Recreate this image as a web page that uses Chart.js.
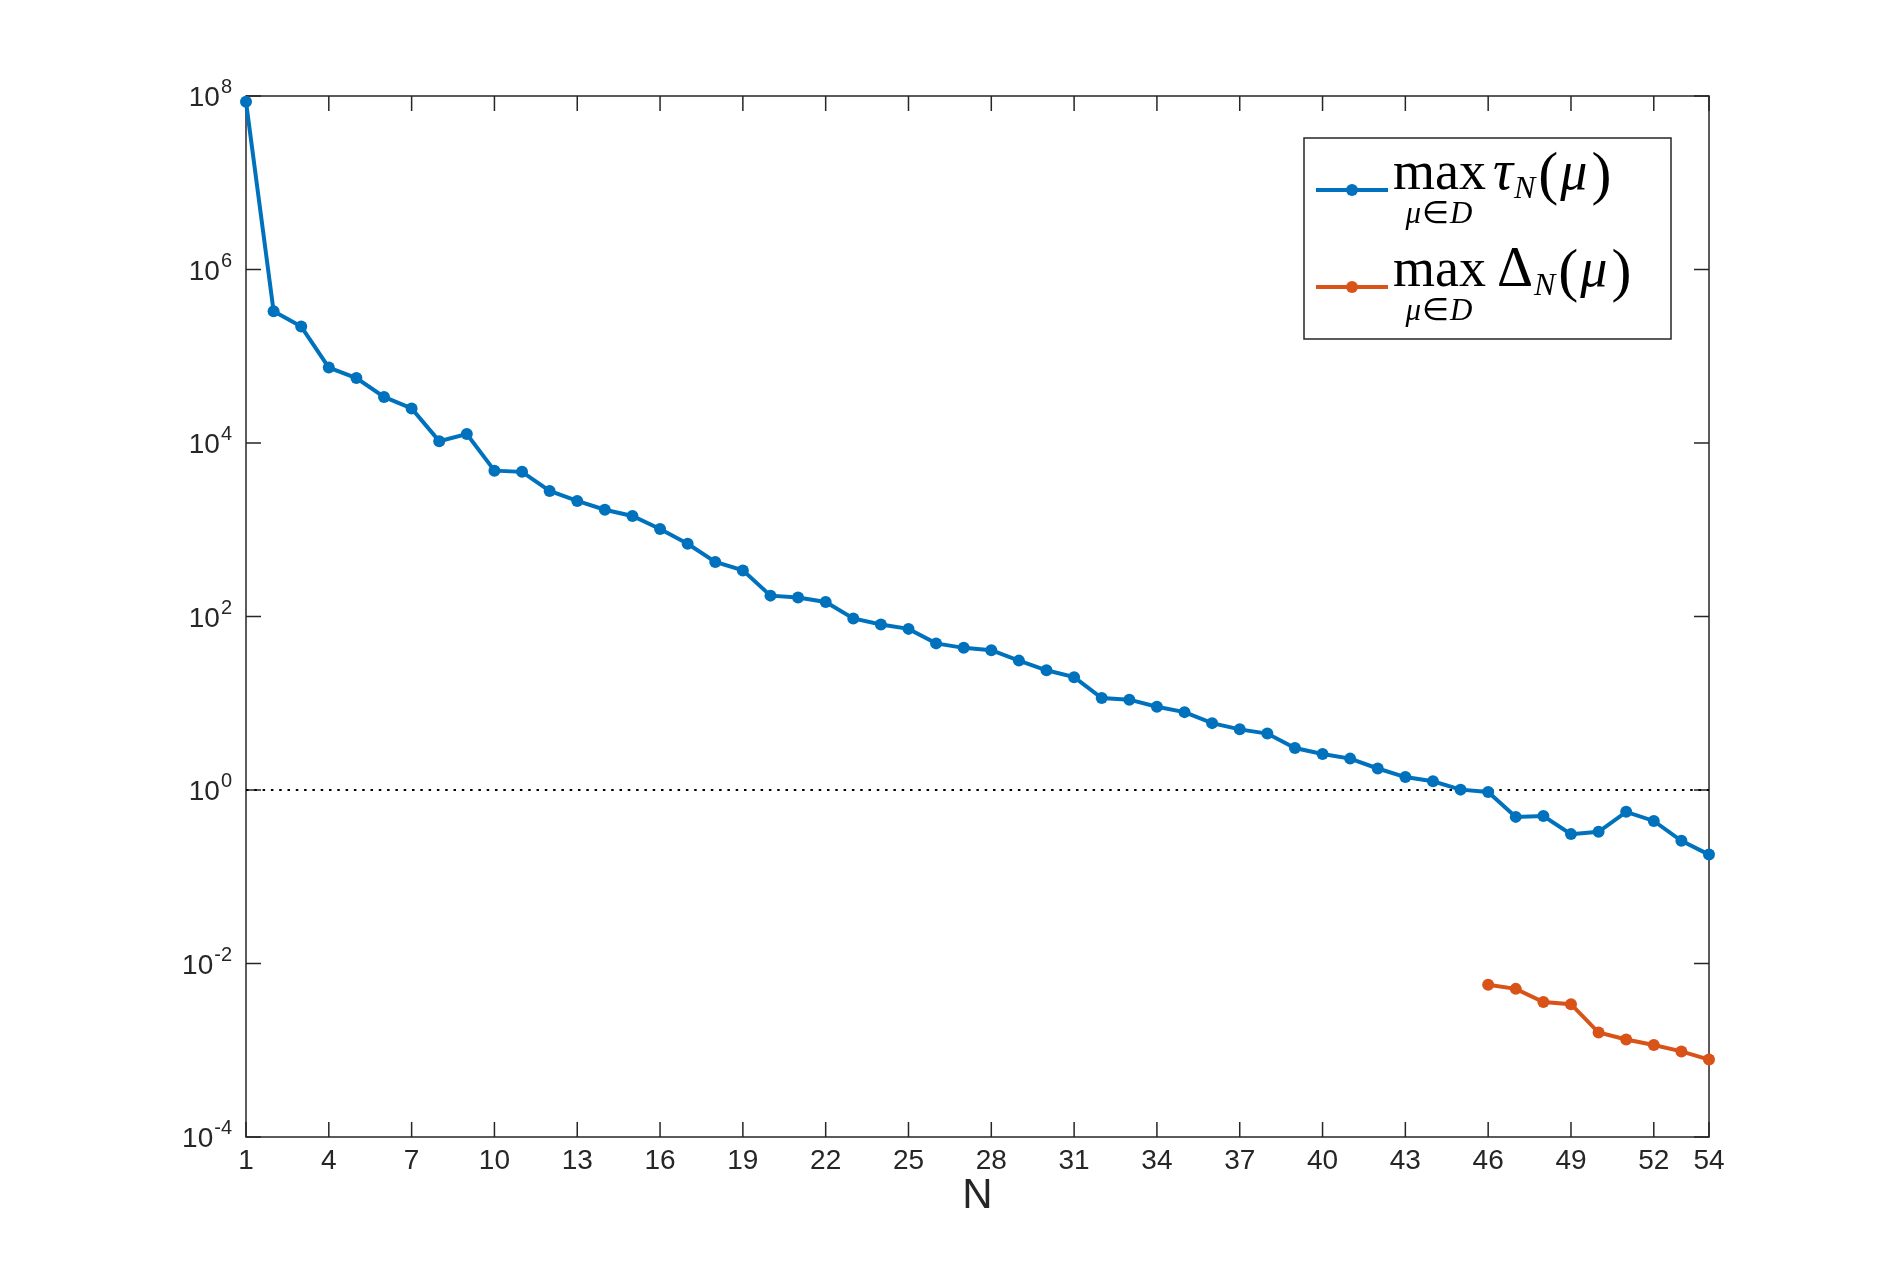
<!DOCTYPE html>
<html>
<head>
<meta charset="utf-8">
<title>max tau_N and Delta_N</title>
<script src="https://cdn.jsdelivr.net/npm/chart.js@4.4.0/dist/chart.umd.min.js"></script>
<style>
body { margin: 0; background: #fff; }
#wrap { width: 1888px; height: 1278px; }
</style>
</head>
<body>
<div id="wrap"><canvas id="mycanvas" width="1888" height="1278"></canvas></div>
<script>
var nValues = [1, 2, 3, 4, 5, 6, 7, 8, 9, 10, 11, 12, 13, 14, 15, 16, 17, 18,
	19, 20, 21, 22, 23, 24, 25, 26, 27, 28, 29, 30, 31, 32, 33, 34, 35, 36,
	37, 38, 39, 40, 41, 42, 43, 44, 45, 46, 47, 48, 49, 50, 51, 52, 53, 54];
var tauMax = [8.6e7, 3.3e5, 2.2e5, 7.4e4, 5.6e4, 3.4e4, 2.5e4, 1.05e4, 1.27e4,
	4.8e3, 4.65e3, 2.8e3, 2.15e3, 1.7e3, 1.44e3, 1.02e3, 690, 425,
	340, 174, 166, 147, 95, 81, 72, 49, 43.5,
	40.9, 31, 24, 20, 11.5, 11, 9.1, 7.9, 5.9,
	5.0, 4.47, 3.05, 2.6, 2.3, 1.77, 1.41, 1.26, 1.01,
	0.95, 0.49, 0.5, 0.31, 0.33, 0.56, 0.44, 0.26, 0.18];
var nDelta = [46, 47, 48, 49, 50, 51, 52, 53, 54];
var deltaMax = [5.7e-3, 5.1e-3, 3.6e-3, 3.4e-3, 1.6e-3, 1.33e-3, 1.15e-3, 9.7e-4, 7.8e-4];
var refN = [1, 54];
var refLevel = [1, 1];
var xTicks = [1, 4, 7, 10, 13, 16, 19, 22, 25, 28, 31, 34, 37, 40, 43, 46, 49, 52, 54];
var yTicks = [1e-4, 1e-2, 1, 1e2, 1e4, 1e6, 1e8];
var yTickExponents = ['-4', '-2', '0', '2', '4', '6', '8'];

var blue = '#0072BD';
var red = '#D95319';
var axisColor = '#262626';
var sans = '"Liberation Sans", Arial, sans-serif';
var serif = '"Liberation Serif", "Times New Roman", serif';

function toPoints(xs, ys) {
	var out = [];
	for (var i = 0; i < xs.length; i++) {
		out.push({x: xs[i], y: ys[i]});
	}
	return out;
}

// box round the plot, ticks pointing inwards on all four sides
var axisBox = {
	id: 'axisBox',
	beforeDatasetsDraw: function(chart) {
		var ctx = chart.ctx, a = chart.chartArea;
		var xs = chart.scales.x, ys = chart.scales.y;
		var len = 15;
		ctx.save();
		ctx.strokeStyle = axisColor;
		ctx.lineWidth = 1.5;
		ctx.strokeRect(a.left, a.top, a.right - a.left, a.bottom - a.top);
		ctx.beginPath();
		xs.ticks.forEach(function(t) {
			var px = xs.getPixelForValue(t.value);
			ctx.moveTo(px, a.bottom); ctx.lineTo(px, a.bottom - len);
			ctx.moveTo(px, a.top); ctx.lineTo(px, a.top + len);
		});
		ys.ticks.forEach(function(t) {
			var py = ys.getPixelForValue(t.value);
			ctx.moveTo(a.left, py); ctx.lineTo(a.left + len, py);
			ctx.moveTo(a.right, py); ctx.lineTo(a.right - len, py);
		});
		ctx.stroke();
		ctx.restore();
	}
};

// y tick labels as 10 with a raised exponent
var powerLabels = {
	id: 'powerLabels',
	afterDraw: function(chart) {
		var ctx = chart.ctx, a = chart.chartArea, ys = chart.scales.y;
		ctx.save();
		ctx.fillStyle = axisColor;
		ctx.textAlign = 'right';
		ctx.textBaseline = 'alphabetic';
		ys.ticks.forEach(function(t) {
			var i = yTicks.indexOf(t.value);
			if (i < 0) return;
			var py = ys.getPixelForValue(t.value);
			var right = a.left - 14;
			ctx.font = '20px ' + sans;
			var ew = ctx.measureText(yTickExponents[i]).width;
			ctx.fillText(yTickExponents[i], right, py - 3);
			ctx.font = '28px ' + sans;
			ctx.fillText('10', right - ew - 1, py + 10);
		});
		ctx.restore();
	}
};

// legend with the max over mu in D written under "max"
var mathLegend = {
	id: 'mathLegend',
	afterDraw: function(chart) {
		var ctx = chart.ctx;
		var bx = 1304, by = 138, bw = 367, bh = 201;
		ctx.save();
		ctx.fillStyle = '#fff';
		ctx.fillRect(bx, by, bw, bh);
		ctx.strokeStyle = axisColor;
		ctx.lineWidth = 1.5;
		ctx.strokeRect(bx, by, bw, bh);

		var rows = [
			{y: 190, color: blue, sym: 'τ', italic: true, gap: 7},
			{y: 287, color: red, sym: 'Δ', italic: false, gap: 11}
		];
		rows.forEach(function(r) {
			ctx.strokeStyle = r.color;
			ctx.lineWidth = 4;
			ctx.beginPath();
			ctx.moveTo(1316, r.y);
			ctx.lineTo(1388, r.y);
			ctx.stroke();
			ctx.fillStyle = r.color;
			ctx.beginPath();
			ctx.arc(1352, r.y, 6, 0, Math.PI * 2);
			ctx.fill();

			var base = r.y - 1;
			var x = 1393;
			ctx.fillStyle = '#000';
			ctx.textBaseline = 'alphabetic';
			ctx.textAlign = 'left';
			ctx.font = '54px ' + serif;
			ctx.fillText('max', x, base);
			var maxW = ctx.measureText('max').width;

			// mu ∈ D under max
			var parts = [['μ', 'italic 31px '], ['∈', '31px '], ['D', 'italic 31px ']];
			var total = 0;
			parts.forEach(function(p) { ctx.font = p[1] + serif; total += ctx.measureText(p[0]).width + 1; });
			var ux = x + maxW / 2 - total / 2;
			parts.forEach(function(p) {
				ctx.font = p[1] + serif;
				ctx.fillText(p[0], ux, base + 34);
				ux += ctx.measureText(p[0]).width + 1;
			});

			x += maxW + r.gap;
			ctx.font = (r.italic ? 'italic ' : '') + '56px ' + serif;
			ctx.fillText(r.sym, x, base);
			x += ctx.measureText(r.sym).width + 1;
			ctx.font = 'italic 32px ' + serif;
			ctx.fillText('N', x, base + 9);
			x += ctx.measureText('N').width + 3;
			ctx.font = '60px ' + serif;
			ctx.fillText('(', x, base + 4);
			x += ctx.measureText('(').width + 2;
			ctx.font = 'italic 54px ' + serif;
			ctx.fillText('μ', x, base);
			x += ctx.measureText('μ').width + 4;
			ctx.font = '60px ' + serif;
			ctx.fillText(')', x, base + 4);
		});
		ctx.restore();
	}
};

var chartdata = {
	datasets: [
		{
			label: 'max tau_N',
			data: toPoints(nValues, tauMax),
			borderColor: blue,
			backgroundColor: blue,
			pointBackgroundColor: blue,
			borderWidth: 4,
			pointRadius: 6,
			pointBorderWidth: 0,
			tension: 0,
			clip: false,
			order: 1
		},
		{
			label: 'max Delta_N',
			data: toPoints(nDelta, deltaMax),
			borderColor: red,
			backgroundColor: red,
			pointBackgroundColor: red,
			borderWidth: 4,
			pointRadius: 6,
			pointBorderWidth: 0,
			tension: 0,
			clip: false,
			order: 2
		},
		{
			label: 'level 1',
			data: toPoints(refN, refLevel),
			borderColor: '#000',
			borderWidth: 2,
			borderDash: [2.5, 5.8],
			pointRadius: 0,
			order: 3
		}
	]
};

var ctx = document.getElementById('mycanvas');
var chart = new Chart(ctx, {
	type: 'line',
	data: chartdata,
	plugins: [axisBox, powerLabels, mathLegend],
	options: {
		responsive: false,
		animation: false,
		events: [],
		layout: {padding: {top: 96, right: 179, left: 0, bottom: 0}},
		plugins: {
			legend: {display: false},
			tooltip: {enabled: false}
		},
		scales: {
			x: {
				type: 'linear',
				min: 1,
				max: 54,
				afterBuildTicks: function(scale) {
					scale.ticks = xTicks.map(function(v) { return {value: v}; });
				},
				afterFit: function(scale) { scale.height = 141; },
				grid: {display: false, drawTicks: false},
				border: {display: false},
				ticks: {
					autoSkip: false,
					maxRotation: 0,
					padding: 7,
					color: axisColor,
					font: {family: sans, size: 28}
				},
				title: {
					display: true,
					text: 'N',
					color: axisColor,
					font: {family: sans, size: 42},
					padding: {top: 0, bottom: 56}
				}
			},
			y: {
				type: 'logarithmic',
				min: 1e-4,
				max: 1e8,
				afterBuildTicks: function(scale) {
					scale.ticks = yTicks.map(function(v) { return {value: v}; });
				},
				afterFit: function(scale) { scale.width = 246; },
				grid: {display: false, drawTicks: false},
				border: {display: false},
				ticks: {display: false}
			}
		}
	}
});
</script>
</body>
</html>
